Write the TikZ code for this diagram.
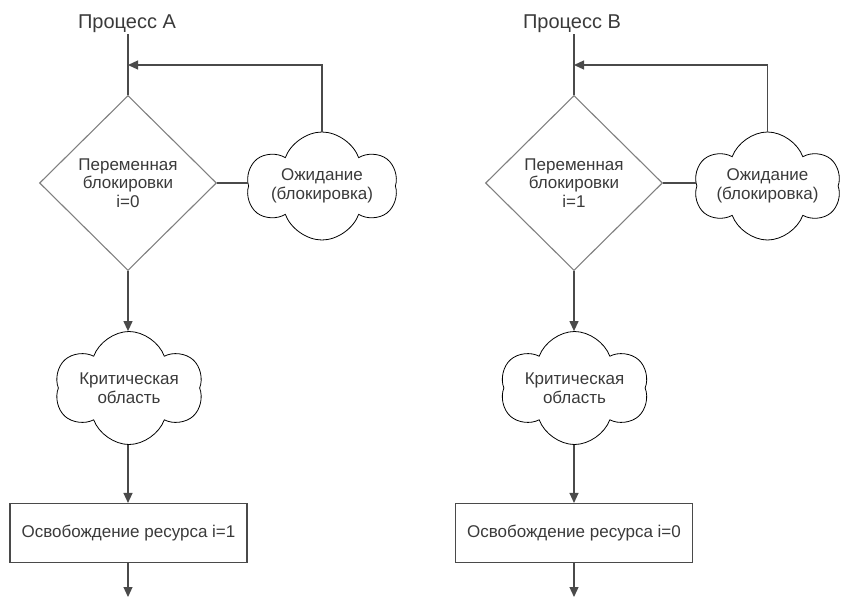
\documentclass[tikz,border=0pt]{standalone}
\usepackage{fontspec}
\setmainfont{Liberation Sans}
\usetikzlibrary{shapes.geometric,shapes.symbols,arrows.meta}
\definecolor{linegray}{HTML}{4A4A4A}
\definecolor{textgray}{HTML}{3A3A3A}
\begin{document}
\begin{tikzpicture}[x=1pt,y=-1pt,
  every node/.style={font=\fontsize{17}{18.5}\selectfont, text=textgray},
  title/.style={font=\fontsize{20}{22}\selectfont, inner sep=2pt, anchor=base},
  decision/.style={diamond, draw=gray, line width=1.1pt, minimum width=177pt,
    minimum height=175pt, inner sep=0pt, align=center},
  puff/.style={cloud, cloud puffs=6, cloud puff arc=140, cloud ignores aspect,
    draw=black, line width=0.8pt, align=center, inner sep=0pt},
  stepbox/.style={rectangle, draw=linegray, line width=1.1pt,
    minimum width=237pt, minimum height=59pt},
  flow/.style={draw=linegray, line width=1.2pt},
  arr/.style={flow, -{Triangle[length=10pt,width=9pt]}}]
\useasboundingbox (0,0) rectangle (841,598);

% ---------- Process A ----------
\node[title] (titleA) at (127,28) {Процесс A};
\node[decision] (diaA) at (128,183) {Переменная\\блокировки\\i=0};
\node[puff, minimum width=150pt, minimum height=108pt] (waitA) at (322,186)
  {Ожидание\\(блокировка)};
\node[puff, minimum width=148pt, minimum height=113pt] (critA) at (129,388)
  {Критическая\\область};
\node[stepbox] (freeA) at (128.5,533) {Освобождение ресурса i=1};
\coordinate (joinA) at (128,65);
\coordinate (endA) at (128,597);

\draw[flow] (titleA.south -| diaA.north) -- (diaA.north);
\draw[flow] (diaA.east) -- (diaA.east -| waitA.west);
\draw[arr] (waitA.north) |- (joinA);
\draw[arr] (diaA.south) -- (diaA.south |- critA.north);
\draw[arr] (critA.south -| diaA.south) -- (freeA.north -| diaA.south);
\draw[arr] (freeA.south -| endA) -- (endA);

% ---------- Process B ----------
\node[title] (titleB) at (572,28) {Процесс B};
\node[decision] (diaB) at (574,183) {Переменная\\блокировки\\i=1};
\node[puff, minimum width=146pt, minimum height=108pt] (waitB) at (767.5,186)
  {Ожидание\\(блокировка)};
\node[puff, minimum width=148pt, minimum height=113pt] (critB) at (574.5,388)
  {Критическая\\область};
\node[stepbox] (freeB) at (574,533) {Освобождение ресурса i=0};
\coordinate (joinB) at (574,65);
\coordinate (endB) at (574,597);

\draw[flow] (titleB.south -| diaB.north) -- (diaB.north);
\draw[flow] (diaB.east) -- (diaB.east -| waitB.west);
\draw[arr] (waitB.north) |- (joinB);
\draw[arr] (diaB.south) -- (diaB.south |- critB.north);
\draw[arr] (critB.south -| diaB.south) -- (freeB.north -| diaB.south);
\draw[arr] (freeB.south -| endB) -- (endB);
\end{tikzpicture}
\end{document}
